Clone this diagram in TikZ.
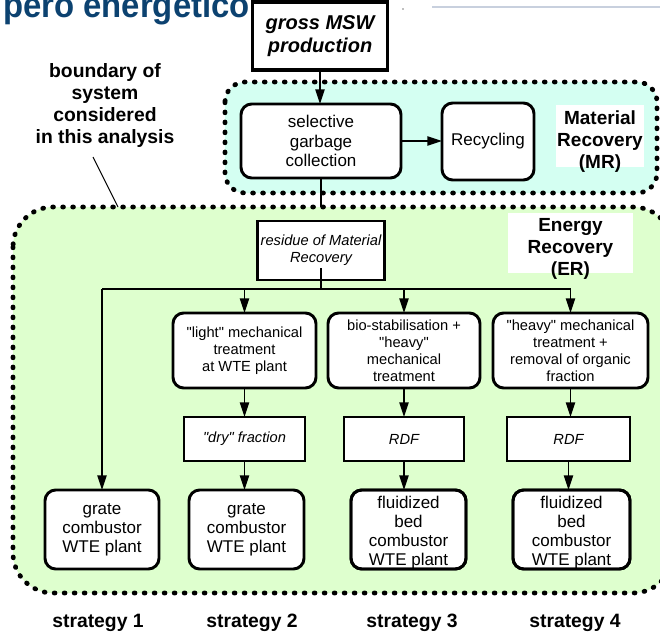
\documentclass[tikz,border=0pt]{standalone}
\usepackage{fontspec}
\setmainfont{Liberation Sans}
\usetikzlibrary{arrows.meta,calc}
\definecolor{mrfill}{RGB}{212,255,242}
\definecolor{erfill}{RGB}{222,255,206}
\definecolor{titleblue}{RGB}{12,66,112}
\definecolor{rulegray}{RGB}{200,208,222}
\newcommand{\qd}{\textquotedbl}
\tikzset{
  px/.style 2 args={minimum width=#1*0.75pt, minimum height=#2*0.75pt},
  box/.style={draw, line width=2.2pt, fill=white, inner sep=0pt, outer sep=0pt, align=center},
  rbox/.style={box, rounded corners=8pt},
  sqbox/.style={box},
  conn/.style={line width=1.1pt},
  arr/.style={conn, -{Triangle[length=11pt,width=7pt]}},
  bound/.style={line width=3.6pt, line cap=round, dash pattern=on 0.6pt off 6.9pt},
  lbl/.style={font=\bfseries\fontsize{14.25pt}{16.5pt}\selectfont, align=center, inner sep=0pt},
  slbl/.style={font=\bfseries\fontsize{14.5pt}{16.5pt}\selectfont, align=center, inner sep=0pt},
  fbig/.style={font=\fontsize{12.75pt}{14.4pt}\selectfont},
  fsmall/.style={font=\fontsize{11pt}{12.8pt}\selectfont},
  fsmalli/.style={font=\itshape\fontsize{11pt}{12.8pt}\selectfont},
}
\begin{document}
\begin{tikzpicture}[x=0.75pt,y=-0.75pt]
\useasboundingbox (0,0) rectangle (660,635);
\clip (0,0) rectangle (660,635);

% title fragment and rule
\node[anchor=base west, inner sep=0pt, text=titleblue,
      font=\bfseries\fontsize{26.5pt}{30pt}\selectfont] (title) at (3,17.5)
  {\scalebox{0.93}[1]{pero energetico}};
\draw[rulegray, line width=1.5pt] (432,7) -- (660,7);
\fill[gray] (403,9) circle (0.8);

% boundaries
\draw[bound, fill=mrfill, rounded corners=15pt] (225,82) rectangle (657,193);
\draw[bound, fill=erfill, rounded corners=30pt] (13,207) rectangle (673,593);

% boundary label
\node[slbl] (blabel) at (105,106)
  {boundary of\\system\\considered\\in this analysis};
\coordinate (bstart) at (93,157);
\coordinate (bpt) at (118,207);
\draw[line width=0.7pt] (bstart) -- (bpt);

% top part
\node[sqbox, line width=2.4pt, px={135}{68},
      font=\bfseries\itshape\fontsize{15pt}{17.25pt}\selectfont] (gross) at (320,36)
  {gross MSW\\production};
\node[rbox, px={160}{74}, fbig] (sel) at (321,141) {selective\\garbage\\collection};
\node[rbox, px={92}{77}, fbig] (rec) at (488,141.5) {Recycling};
\node[fill=white, inner sep=0pt, px={88}{62}] (mrbg) at (600,136) {};
\node[lbl] (mr) at (600,142) {Material\\Recovery\\(MR)};
\node[fill=white, inner sep=0pt, px={125}{60}] (erbg) at (570.5,243) {};
\node[lbl] (er) at (570.5,249) {Energy\\Recovery\\(ER)};

\draw[arr] (gross.south) -- (gross.south |- sel.north);
\draw[arr] (sel.east) -- (sel.east -| rec.west);
\coordinate (ertop) at (321,207);
\draw[conn] (sel.south) -- (sel.south |- ertop);

% energy recovery part
\node[sqbox, px={127}{59}, fsmalli] (res) at (321,250.5) {residue of Material\\Recovery};
\coordinate (hl) at (321,289);

\node[rbox, px={143}{75}, fsmall] (tA) at (244.5,350.5) {\qd light\qd{} mechanical\\treatment\\at WTE plant};
\node[rbox, px={152}{75}, fsmall] (tB) at (404,350.5) {bio-stabilisation +\\\qd heavy\qd\\mechanical\\treatment};
\node[rbox, px={155}{75}, fsmall] (tC) at (570.5,350.5) {\qd heavy\qd{} mechanical\\treatment +\\removal of organic\\fraction};

\node[sqbox, px={121}{44}, fsmalli] (mA) at (244.5,439) {\qd dry\qd{} fraction};
\node[sqbox, px={120}{44}, fsmalli] (mB) at (404,439) {RDF};
\node[sqbox, px={123}{44}, fsmalli] (mC) at (568.5,439) {RDF};

\node[rbox, px={114}{79}, fbig] (s1) at (102,529.5) {grate\\combustor\\WTE plant};
\node[rbox, px={115}{79}, fbig] (s2) at (246.5,529.5) {grate\\combustor\\WTE plant};
\node[rbox, px={115}{79}] (s3) at (408.5,529.5) {};
\node[rbox, px={117}{79}] (s4) at (571.5,529.5) {};
\node[fbig, align=center, inner sep=0pt] (s3t) at ($(s3.center)+(0,3)$) {fluidized\\bed\\combustor\\WTE plant};
\node[fbig, align=center, inner sep=0pt] (s4t) at ($(s4.center)+(0,3)$) {fluidized\\bed\\combustor\\WTE plant};
\draw[line width=2.2pt, rounded corners=8pt] (s3.south west) rectangle (s3.north east);
\draw[line width=2.2pt, rounded corners=8pt] (s4.south west) rectangle (s4.north east);

% connectors
\draw[conn] (res.center) ++(0,17.5) -- (hl);
\draw[conn] (s1 |- hl) -- (tC |- hl);
\draw[arr] (s1 |- hl) -- (s1.north);
\draw[arr] (tA |- hl) -- (tA.north);
\draw[arr] (tB |- hl) -- (tB.north);
\draw[arr] (tC |- hl) -- (tC.north);
\draw[arr] (tA.south) -- (tA.south |- mA.north);
\draw[arr] (tB.south) -- (tB.south |- mB.north);
\draw[arr] (tC.south) -- (tC.south |- mC.north);
\draw[arr] (mA.south) -- (mA.south |- s2.north);
\draw[arr] (mB.south) -- (mB.south |- s3.north);
\draw[arr] (mC.south) -- (mC.south |- s4.north);

% strategy labels
\node[slbl] (st1) at (98,623) {strategy 1};
\node[slbl] (st2) at (252,623) {strategy 2};
\node[slbl] (st3) at (412,623) {strategy 3};
\node[slbl] (st4) at (575,623) {strategy 4};
\end{tikzpicture}
\end{document}
